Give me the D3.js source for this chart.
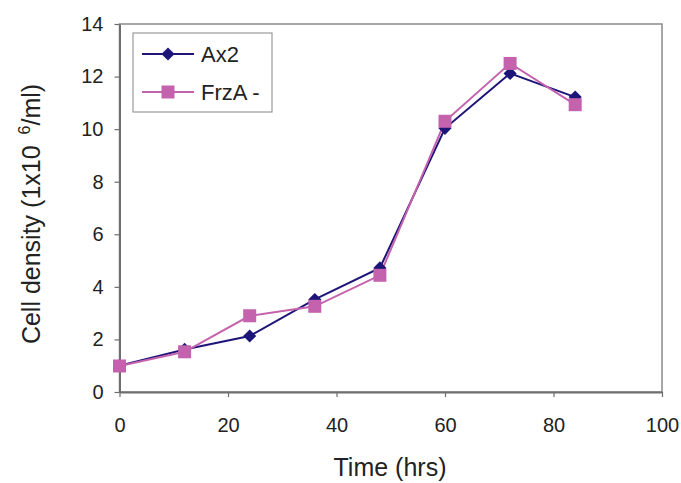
<!DOCTYPE html>
<html>
<head>
<meta charset="utf-8">
<script src="https://cdn.jsdelivr.net/npm/d3@7"></script>
<style>
  body { margin: 0; background: #fff; }
  text { font-family: "Liberation Sans", Arial, sans-serif; fill: #222; }
</style>
</head>
<body>
<div id="chart-area"></div>
<script>
const hours = [0, 12, 24, 36, 48, 60, 72, 84];
const ax2 = [1.0, 1.62, 2.13, 3.52, 4.72, 10.03, 12.12, 11.22];
const frzA = [0.99, 1.53, 2.9, 3.26, 4.44, 10.3, 12.5, 10.93];
const xTicks = [0, 20, 40, 60, 80, 100];
const yTicks = [0, 2, 4, 6, 8, 10, 12, 14];

const MARGIN = { LEFT: 119.5, RIGHT: 19, TOP: 24, BOTTOM: 91 }
const WIDTH = 681 - MARGIN.LEFT - MARGIN.RIGHT
const HEIGHT = 483 - MARGIN.TOP - MARGIN.BOTTOM

const NAVY = "#1d1678"
const PINK = "#c462ae"

const svg = d3.select("#chart-area").append("svg")
    .attr("width", 681)
    .attr("height", 483);

const g = svg.append("g")
    .attr("transform", `translate(${MARGIN.LEFT}, ${MARGIN.TOP})`)

const x = d3.scaleLinear().domain([0, 100]).range([0, WIDTH]);
const y = d3.scaleLinear().domain([0, 14]).range([HEIGHT, 0]);

// frame
g.append("rect")
    .attr("width", WIDTH)
    .attr("height", HEIGHT)
    .attr("fill", "none")
    .attr("stroke", "#8a8a8a")
    .attr("stroke-width", 1.5)

// axes
const xAxis = g.append("g")
    .attr("transform", `translate(0, ${HEIGHT})`)
    .call(d3.axisBottom(x).tickValues(xTicks).tickSize(5).tickPadding(21).tickSizeOuter(0))
const yAxis = g.append("g")
    .call(d3.axisLeft(y).tickValues(yTicks).tickSize(5).tickPadding(11).tickSizeOuter(0))

;[xAxis, yAxis].forEach(a => {
    a.select(".domain").attr("stroke", "#6e6e6e").attr("stroke-width", 2)
    a.selectAll(".tick line").attr("stroke", "#6e6e6e").attr("stroke-width", 1.2)
    a.selectAll("text")
        .attr("font-size", "20px")
        .attr("font-family", "Liberation Sans, Arial, sans-serif")
        .attr("fill", "#222")
})

// lines
const line = d3.line().x((d, i) => x(hours[i])).y(d => y(d));

g.append("path")
    .datum(ax2)
    .attr("d", line)
    .attr("fill", "none")
    .attr("stroke", NAVY)
    .attr("stroke-width", 2)

g.append("path")
    .datum(frzA)
    .attr("d", line)
    .attr("fill", "none")
    .attr("stroke", PINK)
    .attr("stroke-width", 2)

const diamond = d3.symbol().type(d3.symbolDiamond2).size(110)

g.selectAll(".ax2-pt").data(ax2).enter().append("path")
    .attr("class", "ax2-pt")
    .attr("transform", (d, i) => `translate(${x(hours[i])}, ${y(d)})`)
    .attr("d", diamond)
    .attr("fill", NAVY)

g.selectAll(".frz-pt").data(frzA).enter().append("rect")
    .attr("class", "frz-pt")
    .attr("x", (d, i) => x(hours[i]) - 6.5)
    .attr("y", d => y(d) - 6.5)
    .attr("width", 13)
    .attr("height", 13)
    .attr("fill", PINK)

// legend
const legend = svg.append("g").attr("transform", "translate(133, 33)")
legend.append("rect")
    .attr("width", 139)
    .attr("height", 79)
    .attr("fill", "#fff")
    .attr("stroke", "#9a9a9a")
    .attr("stroke-width", 1.2)

const items = [
    { name: "Ax2", color: NAVY, shape: "diamond" },
    { name: "FrzA -", color: PINK, shape: "square" }
]
items.forEach((it, i) => {
    const ly = 21 + i * 38
    legend.append("line")
        .attr("x1", 9).attr("x2", 61)
        .attr("y1", ly).attr("y2", ly)
        .attr("stroke", it.color)
        .attr("stroke-width", 2)
    if (it.shape == "diamond") {
        legend.append("path")
            .attr("transform", `translate(35, ${ly})`)
            .attr("d", diamond)
            .attr("fill", it.color)
    } else {
        legend.append("rect")
            .attr("x", 28.5).attr("y", ly - 6.5)
            .attr("width", 13).attr("height", 13)
            .attr("fill", it.color)
    }
    legend.append("text")
        .attr("x", 68)
        .attr("y", ly + 8)
        .attr("font-size", "22px")
        .text(it.name)
})

// X label
svg.append("text")
    .attr("x", 390)
    .attr("y", 476)
    .attr("font-size", "25px")
    .attr("text-anchor", "middle")
    .text("Time (hrs)")

// Y label
const yl = svg.append("text")
    .attr("transform", `translate(40, 214) rotate(-90)`)
    .attr("font-size", "25px")
    .attr("text-anchor", "middle")
yl.append("tspan").text("Cell density (1x10 ")
yl.append("tspan").attr("font-size", "16px").attr("dx", "4").attr("dy", "-10").text("6")
yl.append("tspan").attr("dy", "10").text("/ml)")
</script>
</body>
</html>
